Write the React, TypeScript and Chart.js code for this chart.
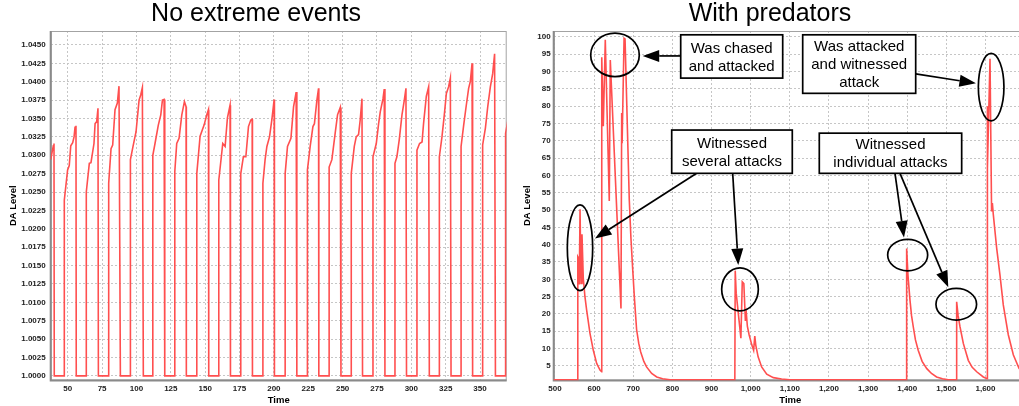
import React, { useEffect, useRef } from 'react';
import { Chart, registerables } from 'chart.js';

Chart.register(...registerables);

const FONT = '"Liberation Sans", Arial, Helvetica, sans-serif';
const LINE_COLOR = '#ff4f4f';

// ---------- Left chart: "No extreme events" ----------
const leftTime = [
  37.6, 39.5, 40.0, 40.2,
  47.5, 47.5, 49.9, 51.1, 52.2, 53.6, 54.6, 55.3, 56.0, 56.2,
  63.5, 63.5, 65.7, 66.9, 69.1, 69.9, 71.1, 72.0, 72.3,
  79.8, 79.8, 81.5, 82.7, 84.4, 86.1, 87.3, 88.3,
  95.6, 95.6, 97.5, 99.7, 101.9, 103.1, 104.3, 105.0,
  111.9, 111.9, 113.5, 115.9, 117.7, 118.9, 120.1, 120.6,
  127.9, 127.9, 129.3, 131.0, 133.0, 134.9, 136.1, 136.3,
  143.9, 143.9, 146.3, 149.2, 151.2, 152.4, 152.6,
  159.9, 159.9, 162.8, 164.5, 166.2, 168.1, 168.4,
  175.9, 175.9, 177.8, 179.6, 181.5, 183.2, 184.2, 184.4,
  192.0, 192.0, 193.6, 194.9, 196.8, 198.5, 200.2, 200.4,
  208.2, 208.2, 209.9, 212.4, 214.3, 216.2, 216.7,
  224.4, 224.4, 226.4, 228.4, 229.5, 231.3, 232.5, 232.7,
  240.2, 240.2, 242.2, 244.6, 246.3, 248.3, 248.8,
  256.3, 256.3, 258.5, 259.9, 261.6, 262.8, 264.1, 264.5,
  272.1, 272.1, 274.5, 276.2, 277.4, 279.4, 280.3, 280.8,
  288.1, 288.1, 289.5, 291.2, 293.2, 294.9, 296.1, 296.5,
  304.1, 304.1, 306.0, 307.8, 308.9, 310.9, 312.6, 313.1,
  320.4, 320.4, 322.3, 324.0, 325.5, 327.1, 328.4, 328.9,
  336.2, 336.2, 338.1, 340.0, 341.7, 342.9, 344.2, 344.6,
  351.9, 351.9, 353.9, 355.6, 357.5, 359.2, 360.6, 361.2,
  368.6, 368.6, 370.5,
];
const leftLevel = [
  1.0294, 1.0313, 1.0316, 1.0,
  1.0, 1.0239, 1.028, 1.0286, 1.0313, 1.0317, 1.0325, 1.0338, 1.034, 1.0,
  1.0, 1.025, 1.0289, 1.029, 1.0316, 1.0343, 1.0346, 1.0364, 1.0,
  1.0, 1.0262, 1.0309, 1.0314, 1.0362, 1.0371, 1.0394, 1.0,
  1.0, 1.0294, 1.0312, 1.0332, 1.0375, 1.0382, 1.0392, 1.0,
  1.0, 1.03, 1.0316, 1.0341, 1.0355, 1.0375, 1.0376, 1.0,
  1.0, 1.0278, 1.0316, 1.0323, 1.0355, 1.0373, 1.0366, 1.0,
  1.0, 1.0275, 1.0326, 1.0341, 1.0355, 1.0362, 1.0,
  1.0, 1.0266, 1.0316, 1.0312, 1.0351, 1.0368, 1.0,
  1.0, 1.0275, 1.0298, 1.0298, 1.0339, 1.0348, 1.0349, 1.0,
  1.0, 1.0262, 1.0294, 1.0312, 1.0325, 1.0348, 1.0376, 1.0,
  1.0, 1.0275, 1.0312, 1.0323, 1.0366, 1.0386, 1.0,
  1.0, 1.028, 1.0312, 1.0339, 1.0343, 1.0375, 1.0391, 1.0,
  1.0, 1.0284, 1.0294, 1.033, 1.0355, 1.0365, 1.0,
  1.0, 1.0275, 1.0312, 1.0325, 1.0328, 1.0348, 1.0377, 1.0,
  1.0, 1.0298, 1.0316, 1.0343, 1.0359, 1.0377, 1.039, 1.0,
  1.0, 1.0289, 1.0298, 1.0321, 1.0355, 1.0375, 1.0391, 1.0,
  1.0, 1.0307, 1.0316, 1.0318, 1.0343, 1.038, 1.0393, 1.0,
  1.0, 1.0298, 1.0325, 1.0355, 1.0384, 1.0393, 1.0405, 1.0,
  1.0, 1.0312, 1.0341, 1.0368, 1.0391, 1.04, 1.0425, 1.0,
  1.0, 1.0314, 1.0337, 1.0366, 1.0393, 1.0411, 1.0438, 1.0,
  1.0, 1.033, 1.035,
];
const leftXTicks = [50, 75, 100, 125, 150, 175, 200, 225, 250, 275, 300, 325, 350];
const leftYTicks = [
  1.0, 1.0025, 1.005, 1.0075, 1.01, 1.0125, 1.015, 1.0175, 1.02, 1.0225,
  1.025, 1.0275, 1.03, 1.0325, 1.035, 1.0375, 1.04, 1.0425, 1.045,
];

// ---------- Right chart: "With predators" ----------
const rightTime = [
  490, 558, 558.3, 560.5, 562, 564, 566.5, 569, 572.3, 576.6, 580.9, 589.4, 597.9, 606.5, 615, 619.3,
  619.5, 623.4, 628.5, 638.7, 641.3, 668.6,
  670.4, 671.5, 676.5, 679, 689.8, 694, 698.5, 703, 708.5, 714, 719, 727, 734, 747, 760, 775, 794,
  959.5, 960.5, 963, 975, 978.5, 982.5, 986.5, 989, 991.5, 996, 1003, 1007.5, 1010.5, 1013, 1019, 1028, 1041, 1058, 1079, 1100,
  1397.5, 1398.5, 1402, 1407, 1411, 1415.4, 1421, 1428, 1438, 1450, 1462, 1475, 1490, 1505,
  1525.5, 1526.3, 1530, 1534.8, 1543.3, 1556, 1566, 1577.5, 1594.4, 1604,
  1604.2, 1605.5, 1611.5, 1615.5, 1617.5, 1620, 1628.5, 1636.9, 1645.4, 1658.2, 1671, 1685.6, 1700, 1710,
];
const rightLevel = [
  1.0, 1.0, 36.5, 36, 28.5, 50.2, 28.8, 43, 30.3, 24.9, 21.1, 14.4, 9.5, 5.7, 3.8, 3.3,
  94.1, 74.2, 99.2, 52.6, 93.3, 21.6,
  78, 69.3, 99.6, 99.4, 53, 42, 33, 24.5, 15.5, 11.5, 9, 6.3, 4.7, 2.8, 1.8, 1.3, 1.0,
  1.0, 32.5, 26, 13, 29.3, 28.8, 18, 20, 16.5, 14, 11, 9.5, 13.6, 11, 7.6, 4.7, 2.6, 1.6, 1.2, 1.0,
  1.0, 38.9, 31, 24, 19.5, 16.3, 12.5, 9.5, 6.3, 4.2, 2.8, 1.8, 1.3, 1.0,
  1.0, 23.5, 19.5, 16.3, 11.5, 6.6, 4.6, 3.3, 1.8, 1.3,
  80, 62, 93.7, 49.6, 52, 48.6, 39, 31.3, 22.6, 14, 8.2, 4.3, 2.5, 2.0,
];
const rightXTicks = [500, 600, 700, 800, 900, 1000, 1100, 1200, 1300, 1400, 1500, 1600];
const rightYTicks = [5, 10, 15, 20, 25, 30, 35, 40, 45, 50, 55, 60, 65, 70, 75, 80, 85, 90, 95, 100];

// ---------- Annotations (in data units of the right chart) ----------
const ellipseTime = [653.3, 563.9, 972.7, 1614.4, 1401.1, 1525.3];
const ellipseLevel = [94.8, 39.1, 27.1, 85.5, 37.0, 22.8];
const ellipseRadiusTime = [62.1, 32.4, 46.8, 32.7, 51.1, 51.9];
const ellipseRadiusLevel = [6.27, 12.37, 6.21, 9.74, 4.54, 4.57];

const boxLines = [
  ['Was chased', 'and attacked'],
  ['Witnessed', 'several attacks'],
  ['Was attacked', 'and witnessed', 'attack'],
  ['Witnessed', 'individual attacks'],
];
const boxTimeStart = [821.2, 798.2, 1132.9, 1175.3];
const boxTimeEnd = [1081.8, 1106.3, 1421.6, 1539.1];
const boxLevelTop = [100.6, 73.1, 100.6, 72.2];
const boxLevelBottom = [88.1, 60.6, 83.7, 60.6];

const arrowFromTime = [821.2, 862, 954, 1421.6, 1368.7, 1381.5];
const arrowFromLevel = [94.5, 60.6, 60.6, 89.3, 60.6, 60.6];
const arrowToTime = [724.1, 602.2, 968.3, 1575.6, 1391.7, 1504.9];
const arrowToLevel = [94.5, 41.8, 34.1, 86.6, 42.1, 27.7];

const outlinePlugin = {
  id: 'plotOutline',
  beforeDatasetsDraw(chart: any) {
    const { ctx, chartArea: a } = chart;
    ctx.save();
    ctx.strokeStyle = '#a3a3a3';
    ctx.lineWidth = 1;
    ctx.strokeRect(a.left + 0.5, a.top + 0.5, a.right - a.left - 1, a.bottom - a.top - 1);
    ctx.strokeStyle = '#8a8a8a';
    ctx.lineWidth = 2;
    ctx.beginPath();
    ctx.moveTo(a.left, a.top);
    ctx.lineTo(a.left, a.bottom);
    ctx.lineTo(a.right, a.bottom);
    ctx.stroke();
    ctx.restore();
  },
};

const annotationPlugin = {
  id: 'annotations',
  afterDraw(chart: any) {
    const { ctx } = chart;
    const xs = chart.scales.x;
    const ys = chart.scales.y;
    ctx.save();
    ctx.strokeStyle = '#000';
    ctx.fillStyle = '#000';
    ctx.lineWidth = 1.7;
    // ellipses
    for (let i = 0; i < ellipseTime.length; i++) {
      const cx = xs.getPixelForValue(ellipseTime[i]);
      const cy = ys.getPixelForValue(ellipseLevel[i]);
      const rx = Math.abs(xs.getPixelForValue(ellipseTime[i] + ellipseRadiusTime[i]) - cx);
      const ry = Math.abs(ys.getPixelForValue(ellipseLevel[i] + ellipseRadiusLevel[i]) - cy);
      ctx.beginPath();
      ctx.ellipse(cx, cy, rx, ry, 0, 0, Math.PI * 2);
      ctx.stroke();
    }
    // arrows
    for (let i = 0; i < arrowFromTime.length; i++) {
      const x1 = xs.getPixelForValue(arrowFromTime[i]);
      const y1 = ys.getPixelForValue(arrowFromLevel[i]);
      const x2 = xs.getPixelForValue(arrowToTime[i]);
      const y2 = ys.getPixelForValue(arrowToLevel[i]);
      const ang = Math.atan2(y2 - y1, x2 - x1);
      const L = 16.5;
      const W = 6;
      const bx = x2 - L * Math.cos(ang);
      const by = y2 - L * Math.sin(ang);
      ctx.beginPath();
      ctx.moveTo(x1, y1);
      ctx.lineTo(bx, by);
      ctx.stroke();
      ctx.beginPath();
      ctx.moveTo(x2, y2);
      ctx.lineTo(bx + W * Math.sin(ang), by - W * Math.cos(ang));
      ctx.lineTo(bx - W * Math.sin(ang), by + W * Math.cos(ang));
      ctx.closePath();
      ctx.fill();
    }
    // boxes
    ctx.font = `15px ${FONT}`;
    ctx.textAlign = 'center';
    ctx.textBaseline = 'middle';
    for (let i = 0; i < boxLines.length; i++) {
      const x1 = xs.getPixelForValue(boxTimeStart[i]);
      const x2 = xs.getPixelForValue(boxTimeEnd[i]);
      const y1 = ys.getPixelForValue(boxLevelTop[i]);
      const y2 = ys.getPixelForValue(boxLevelBottom[i]);
      ctx.fillStyle = '#fff';
      ctx.fillRect(x1, y1, x2 - x1, y2 - y1);
      ctx.strokeRect(x1, y1, x2 - x1, y2 - y1);
      ctx.fillStyle = '#000';
      const lines = boxLines[i];
      const cx = (x1 + x2) / 2;
      const cy = (y1 + y2) / 2;
      for (let j = 0; j < lines.length; j++) {
        ctx.fillText(lines[j], cx, cy + (j - (lines.length - 1) / 2) * 18 + 1);
      }
    }
    ctx.restore();
  },
};

function axisCommon() {
  return {
    type: 'linear' as const,
    grid: { color: '#c6c6c6', lineWidth: 1, drawTicks: false },
    border: { display: false, dash: [2, 2] },
  };
}

function makeConfig(opts: {
  title: string;
  times: number[];
  levels: number[];
  xMin: number;
  xMax: number;
  yMin: number;
  yMax: number;
  xTicks: number[];
  yTicks: number[];
  xFmt: (v: number) => string;
  yFmt: (v: number) => string;
  padLeft: number;
  padRight: number;
  yWidth: number;
  yTickPad: number;
  yTitlePad: number;
  plugins: any[];
}) {
  return {
    type: 'line' as const,
    data: {
      datasets: [
        {
          data: opts.times.map((t, i) => ({ x: t, y: opts.levels[i] })),
          borderColor: LINE_COLOR,
          borderWidth: 1.6,
          pointRadius: 0,
          tension: 0,
          fill: false,
        },
      ],
    },
    options: {
      responsive: false,
      animation: false as const,
      devicePixelRatio: 1,
      layout: { padding: { left: opts.padLeft, right: opts.padRight, top: 0, bottom: 0 } },
      plugins: {
        legend: { display: false },
        tooltip: { enabled: false },
        title: {
          display: true,
          text: opts.title,
          color: '#000',
          font: { family: FONT, size: 25, weight: 'normal' as const, lineHeight: 1.1 },
          padding: { top: 0, bottom: 3.5 },
        },
      },
      scales: {
        x: {
          ...axisCommon(),
          min: opts.xMin,
          max: opts.xMax,
          afterBuildTicks: (s: any) => {
            s.ticks = opts.xTicks.map((v) => ({ value: v }));
          },
          afterFit: (s: any) => {
            s.height = 25.5;
          },
          ticks: {
            autoSkip: false,
            maxRotation: 0,
            padding: 3,
            color: '#222',
            font: { family: FONT, size: 8, weight: 'bold' as const },
            callback: (v: any) => opts.xFmt(Number(v)),
          },
          title: {
            display: true,
            text: 'Time',
            color: '#000',
            font: { family: FONT, size: 9.5, weight: 'bold' as const },
            padding: { top: 0, bottom: 0 },
          },
        },
        y: {
          ...axisCommon(),
          min: opts.yMin,
          max: opts.yMax,
          afterBuildTicks: (s: any) => {
            s.ticks = opts.yTicks.map((v) => ({ value: v }));
          },
          afterFit: (s: any) => {
            s.width = opts.yWidth;
          },
          ticks: {
            autoSkip: false,
            padding: opts.yTickPad,
            color: '#222',
            font: { family: FONT, size: 8, weight: 'bold' as const },
            callback: (v: any) => opts.yFmt(Number(v)),
          },
          title: {
            display: true,
            text: 'DA Level',
            color: '#000',
            font: { family: FONT, size: 9.5, weight: 'bold' as const },
            padding: { top: opts.yTitlePad, bottom: 0 },
          },
        },
      },
    },
    plugins: opts.plugins,
  };
}

export default function App() {
  const leftRef = useRef<HTMLCanvasElement>(null);
  const rightRef = useRef<HTMLCanvasElement>(null);

  useEffect(() => {
    const left = new Chart(
      leftRef.current as HTMLCanvasElement,
      makeConfig({
        title: 'No extreme events',
        times: leftTime,
        levels: leftLevel,
        xMin: 37.6,
        xMax: 369.4,
        yMin: 0.99937,
        yMax: 1.0469,
        xTicks: leftXTicks,
        yTicks: leftYTicks,
        xFmt: (v) => String(v),
        yFmt: (v) => v.toFixed(4),
        padLeft: 5.3,
        padRight: 5.3,
        yWidth: 45.4,
        yTickPad: 5,
        yTitlePad: 2.0,
        plugins: [outlinePlugin],
      }) as any
    );
    const right = new Chart(
      rightRef.current as HTMLCanvasElement,
      makeConfig({
        title: 'With predators',
        times: rightTime,
        levels: rightLevel,
        xMin: 496.7,
        xMax: 1706,
        yMin: 0.78,
        yMax: 101.7,
        xTicks: rightXTicks,
        yTicks: rightYTicks,
        xFmt: (v) => v.toLocaleString('en-US'),
        yFmt: (v) => String(v),
        padLeft: 1,
        padRight: 3,
        yWidth: 40.7,
        yTickPad: 3,
        yTitlePad: 8.3,
        plugins: [outlinePlugin, annotationPlugin],
      }) as any
    );
    return () => {
      left.destroy();
      right.destroy();
    };
  }, []);

  return (
    <div
      style={{
        position: 'absolute',
        left: 0,
        top: 0,
        width: 1019,
        height: 406,
        overflow: 'hidden',
        background: '#fff',
      }}
    >
      <canvas
        ref={leftRef}
        width={512}
        height={406}
        style={{ position: 'absolute', left: 0, top: 0, width: 512, height: 406 }}
      />
      <canvas
        ref={rightRef}
        width={518}
        height={406}
        style={{ position: 'absolute', left: 512, top: 0, width: 518, height: 406 }}
      />
    </div>
  );
}
